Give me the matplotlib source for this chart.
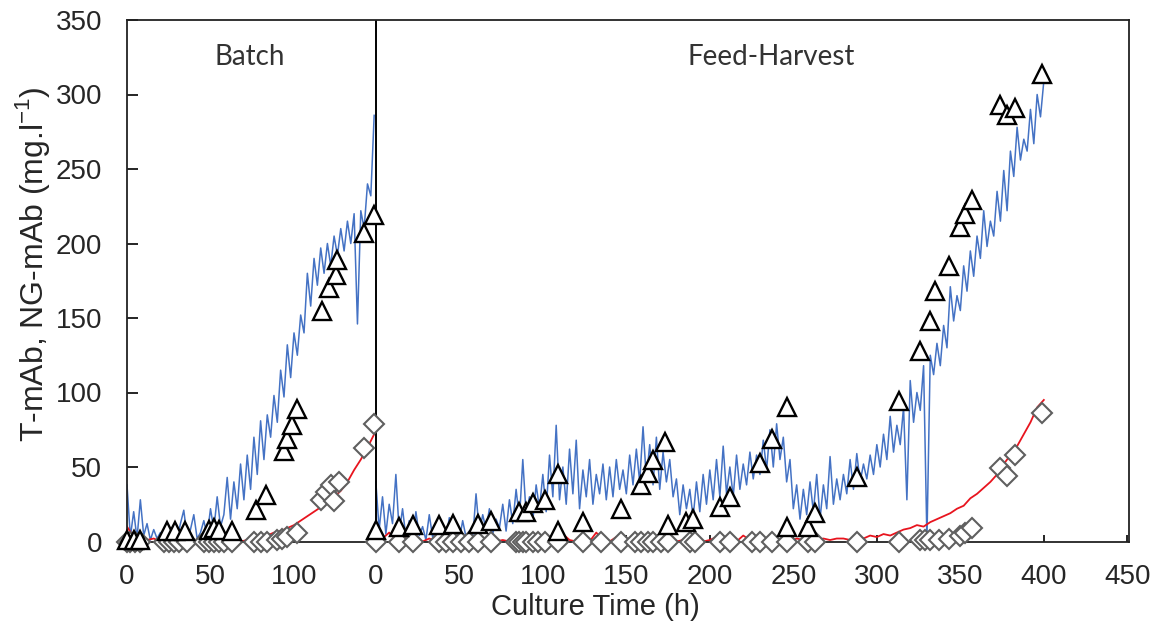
import numpy as np
import matplotlib
matplotlib.use("Agg")
import matplotlib.pyplot as plt

# ---------------- data ----------------
# Batch phase, online (soft-sensor) estimates, every 2 h
batch_online_time = np.arange(0, 150, 2)
batch_tmab_online = [
    38, 3, 20, 2, 28, 4, 12, 1, 8, 2,
    6, 1, 10, 3, 7, 2, 12, 21, 3, 8,
    18, 2, 6, 14, 4, 22, 8, 30, 10, 18,
    43, 15, 40, 22, 52, 28, 58, 35, 70, 45,
    81, 55, 85, 70, 98, 80, 115, 97, 132, 110,
    140, 125, 152, 140, 180, 158, 190, 172, 197, 180,
    200, 185, 205, 192, 210, 195, 215, 200, 220, 146,
    222, 210, 240, 232, 286,
]
batch_ng_online_time = np.arange(0, 150, 4)
batch_ngmab_online = [
    10, 3, 5, 1, 2, 0, 1, 0, 2, 0,
    1, 0, 2, 0, 1, 2, 1, 0, 1, 2,
    3, 4, 6, 7, 9, 11, 14, 17, 20, 23,
    27, 30, 34, 40, 48, 55, 63, 72,
]

# Feed-Harvest phase, online estimates
feed_online_time = np.arange(0, 401, 2)
feed_tmab_online = [
    40, 8, 30, 5, 25, 12, 45, 6, 22, 3,
    14, 2, 20, 4, 10, 1, 18, 3, 8, 2,
    12, 2, 16, 4, 9, 1, 14, 3, 7, 2,
    32, 6, 18, 8, 22, 5, 15, 9, 25, 7,
    28, 12, 35, 15, 55, 18, 30, 14, 38, 22,
    45, 20, 58, 30, 78, 28, 50, 25, 62, 32,
    68, 22, 48, 30, 55, 25, 45, 32, 52, 28,
    50, 30, 55, 35, 48, 32, 58, 38, 62, 40,
    77, 42, 65, 38, 70, 35, 60, 40, 55, 30,
    42, 18, 38, 22, 35, 16, 40, 20, 45, 25,
    48, 28, 55, 30, 64, 32, 50, 30, 58, 35,
    52, 38, 60, 42, 58, 45, 68, 48, 75, 50,
    79, 55, 70, 40, 55, 22, 38, 15, 35, 18,
    40, 20, 45, 15, 38, 22, 57, 25, 42, 28,
    45, 32, 55, 35, 59, 40, 52, 42, 58, 45,
    65, 50, 72, 55, 84, 60, 78, 65, 90, 28,
    108, 80, 100, 88, 118, 1, 125, 112, 133, 118,
    145, 130, 171, 148, 165, 155, 185, 168, 195, 178,
    205, 190, 222, 198, 215, 205, 235, 215, 249, 222,
    262, 245, 278, 256, 270, 262, 290, 267, 300, 285,
    309,
]
feed_ng_online_time = np.arange(0, 401, 4)
feed_ngmab_online = [
    8, 2, 6, 1, 4, 0, 1, 0, 2, 0,
    0, 1, 0, 0, 2, 0, 1, 0, 0, 1,
    0, 1, 0, 2, 0, 1, 3, 0, 5, 1,
    0, 2, 0, 6, 1, 0, 3, 0, 1, 4,
    0, 2, 0, 1, 3, 0, 1, 0, 2, 0,
    1, 3, 0, 1, 0, 4, 1, 2, 0, 1,
    0, 1, 0, 2, 1, 0, 1, 2, 1, 2,
    2, 1, 3, 2, 4, 3, 5, 4, 6, 8,
    9, 11, 10, 13, 15, 17, 19, 22, 24, 29,
    32, 36, 40, 45, 52, 58, 64, 72, 80, 90,
    95,
]

# Offline measurements
batch_tmab_time = [0, 4, 8, 24, 29, 35, 49, 52, 55, 63, 77, 83, 94, 96, 99, 102,
                   117, 121, 125, 126, 142, 148]
batch_tmab_value = [1, 1, 1, 7, 7, 7, 8, 9, 8, 7, 21, 31, 61, 69, 78, 89,
                    155, 170, 179, 189, 207, 219]
batch_ng_time = [0, 2, 5, 8, 22, 25, 28, 31, 36, 46, 49, 52, 55, 58, 63, 76, 80, 84,
                 90, 93, 96, 102, 116, 119, 122, 124, 127, 142, 148]
batch_ng_value = [0, 0, 0, 0, 0, 0, 0, 0, 0, 0, 0, 0, 0, 0, 0, 0, 0, 0,
                  1, 2, 3, 6, 28, 33, 38, 27, 40, 63, 79]

feed_tmab_time = [0, 14, 22, 38, 46, 61, 69, 86, 90, 94, 101, 109, 109, 124, 147,
                  159, 163, 166, 173, 175, 186, 190, 206, 212, 230, 237, 246, 246,
                  259, 263, 288, 313, 326, 332, 335, 343, 350, 353, 357, 374, 378,
                  383, 399]
feed_tmab_value = [8, 10, 11, 11, 12, 12, 14, 20, 20, 26, 28, 45, 7, 13, 22,
                   38, 46, 55, 67, 11, 13, 15, 23, 30, 53, 69, 90, 10,
                   10, 19, 43, 94, 128, 148, 168, 185, 211, 220, 229, 293, 286,
                   291, 314]
feed_ng_time = [0, 14, 22, 38, 42, 46, 51, 56, 61, 69, 84, 86, 88, 90, 94, 97, 101,
                109, 124, 135, 147, 155, 159, 163, 166, 171, 175, 188, 191, 206,
                212, 225, 230, 237, 246, 259, 263, 288, 313, 326, 329, 332, 337,
                343, 350, 353, 357, 374, 378, 383, 399]
feed_ng_value = [0] * 39 + [1, 1, 1, 1, 2, 4, 6, 9, 49, 44, 58, 86]

# x-axis layout: batch hours followed by feed-harvest hours
feed_offset = 149
x_tick_hours = [0, 50, 100, 0, 50, 100, 150, 200, 250, 300, 350, 400, 450]

# ---------------- plot ----------------
plt.rcParams["font.family"] = ["Liberation Sans", "DejaVu Sans"]
plt.rcParams["mathtext.fontset"] = "custom"
plt.rcParams["mathtext.rm"] = "Liberation Sans"

fig = plt.figure(figsize=(11.69, 6.23), dpi=100)
ax = fig.add_axes([127 / 1169, 1 - 541.5 / 623, (1129 - 127) / 1169, 521.5 / 623])

blue = "#4472C4"
red = "#E8141E"
txt = "#262626"

ax.plot(batch_online_time, batch_tmab_online, color=blue, lw=1.1, zorder=2)
ax.plot(np.asarray(feed_online_time) + feed_offset, feed_tmab_online, color=blue, lw=1.1, zorder=2)
ax.plot(batch_ng_online_time, batch_ngmab_online, color=red, lw=1.3, zorder=3)
ax.plot(np.asarray(feed_ng_online_time) + feed_offset, feed_ngmab_online, color=red, lw=1.3, zorder=3)

ax.plot(batch_ng_time, batch_ng_value, ls="none", marker="D", ms=10, mfc="white",
        mec="#5f5f5f", mew=1.5, zorder=4, clip_on=False)
ax.plot(np.asarray(feed_ng_time) + feed_offset, feed_ng_value, ls="none", marker="D", ms=10,
        mfc="white", mec="#5f5f5f", mew=1.5, zorder=4, clip_on=False)
ax.plot(batch_tmab_time, batch_tmab_value, ls="none", marker="^", ms=12.5, mfc="white",
        mec="black", mew=1.7, zorder=5, clip_on=False)
ax.plot(np.asarray(feed_tmab_time) + feed_offset, feed_tmab_value, ls="none", marker="^", ms=12.5,
        mfc="white", mec="black", mew=1.7, zorder=5, clip_on=False)

ax.axvline(feed_offset, color="black", lw=1.4, zorder=3)

ax.set_xlim(0, 600)
ax.set_ylim(0, 350)
xt = [h if i < 3 else h + feed_offset for i, h in enumerate(x_tick_hours)]
ax.set_xticks(xt)
ax.set_xticklabels([str(h) for h in x_tick_hours])
ax.set_yticks(np.arange(0, 351, 50))

for s in ax.spines.values():
    s.set_linewidth(1.3)
    s.set_color("#222222")
    s.set_zorder(3.5)

ax.tick_params(axis="y", direction="in", length=8, width=1.2, labelsize=20,
               labelcolor=txt, pad=18)
ax.tick_params(axis="x", direction="in", length=5, width=1.2, labelsize=20,
               labelcolor=txt, pad=16)

ax.text(0.1228, 0.929, "Batch", transform=ax.transAxes, ha="center", va="center",
        fontsize=20, family=["Lato", "DejaVu Sans"], color="#333333")
ax.text(0.6427, 0.929, "Feed-Harvest", transform=ax.transAxes, ha="center", va="center",
        fontsize=20, family=["Lato", "DejaVu Sans"], color="#333333")

fig.text(33 / 1169, 1 - 264 / 623, r"T-mAb, NG-mAb (mg.l$^{\mathregular{-1}}$)",
         rotation=90, ha="center", va="center", fontsize=23, color=txt)
fig.text(595 / 1169, 1 - 607 / 623, "Culture Time (h)", ha="center", va="center",
         fontsize=21, color=txt)

fig.savefig("out.png", dpi=100)
